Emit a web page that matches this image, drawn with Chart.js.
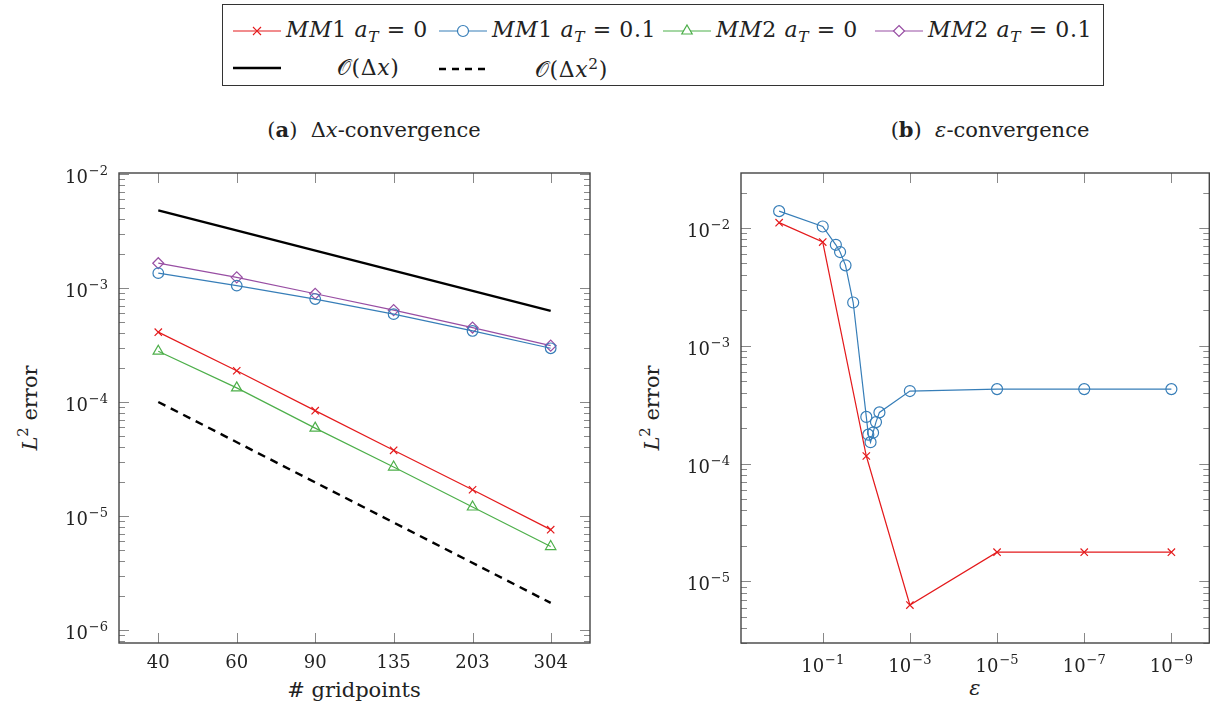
<!DOCTYPE html>
<html>
<head>
<meta charset="utf-8">
<script src="https://cdn.jsdelivr.net/npm/chart.js@4.4.0/dist/chart.umd.min.js"></script>
<style>
  body { margin: 0; background: #fff; width: 1216px; height: 711px; position: relative; overflow: hidden;
         font-family: "DejaVu Serif", serif; color: #222; }
  .abs { position: absolute; white-space: nowrap; }
  #legend { position: absolute; left: 222px; top: 4px; width: 882px; height: 82px;
            border: 1.3px solid #333; box-sizing: border-box; }
  .lg-item { position: absolute; display: flex; align-items: center; font-size: 22px; white-space: nowrap; }
  .lg-item span { letter-spacing: 0.6px; }
  sub { font-size: 70%; vertical-align: -0.3em; }
  sup { font-size: 70%; vertical-align: 0.55em; }
  .title { font-size: 21px; transform: translateX(-50%); }
  .ytitle { font-size: 21px; transform: translate(-50%, -50%) rotate(-90deg); }
  .xtitle { font-size: 21px; transform: translateX(-50%); }
  canvas { position: absolute; }
</style>
</head>
<body>
<div id="legend"></div>

<div class="abs title" style="left:374px; top:117px;">(<b>a</b>)&nbsp; Δ<i>x</i>-convergence</div>
<div class="abs title" style="left:990px; top:117px;">(<b>b</b>)&nbsp; <i>ε</i>-convergence</div>
<div class="abs ytitle" style="left:28px; top:408px;"><i>L</i><sup>2</sup> error</div>
<div class="abs ytitle" style="left:650px; top:408px;"><i>L</i><sup>2</sup> error</div>
<div class="abs xtitle" style="left:354px; top:678px;"># gridpoints</div>
<div class="abs xtitle" style="left:975px; top:676px;"><i>ε</i></div>

<canvas id="left" width="610" height="561" style="left:0; top:150px;"></canvas>
<canvas id="right" width="596" height="561" style="left:620px; top:150px;"></canvas>

<script>
// ---- data (a) dx-convergence
const GRID = [40, 60, 90, 135, 203, 304];
const MM1_A0  = [4.1e-4, 1.88e-4, 8.4e-5, 3.77e-5, 1.70e-5, 7.6e-6];
const MM1_A01 = [1.35e-3, 1.05e-3, 8.0e-4, 5.9e-4, 4.2e-4, 2.96e-4];
const MM2_A0  = [2.79e-4, 1.33e-4, 5.9e-5, 2.69e-5, 1.2e-5, 5.4e-6];
const MM2_A01 = [1.65e-3, 1.24e-3, 8.9e-4, 6.4e-4, 4.5e-4, 3.12e-4];
const REF_X   = [40, 304];
const ORDER1  = [4.8e-3, 6.3e-4];
const ORDER2  = [1.0e-4, 1.73e-6];

// ---- data (b) eps-convergence
const EPS_A0  = [1, 0.1, 0.01, 1e-3, 1e-5, 1e-7, 1e-9];
const ERR_A0  = [1.11e-2, 7.6e-3, 1.16e-4, 6.3e-6, 1.77e-5, 1.77e-5, 1.77e-5];
const EPS_A01 = [1, 0.1, 0.05, 0.04, 0.03, 0.02, 0.01, 0.009, 0.008, 0.007, 0.006, 0.005, 1e-3, 1e-5, 1e-7, 1e-9];
const ERR_A01 = [1.39e-2, 1.03e-2, 7.2e-3, 6.25e-3, 4.82e-3, 2.33e-3, 2.49e-4, 1.76e-4, 1.52e-4, 1.83e-4, 2.25e-4, 2.72e-4, 4.13e-4, 4.29e-4, 4.29e-4, 4.29e-4];

// ---- tick labels
const LEFT_YTICKS  = [1e-6, 1e-5, 1e-4, 1e-3, 1e-2];
const RIGHT_YTICKS = [1e-5, 1e-4, 1e-3, 1e-2];
const EPS_TICKS    = [1e-1, 1e-3, 1e-5, 1e-7, 1e-9];

const SERIES_NAMES = ['MM1 a_T = 0', 'MM1 a_T = 0.1', 'MM2 a_T = 0', 'MM2 a_T = 0.1'];
const REF_NAMES = ['O(Δx)', 'O(Δx^2)'];

const RED = '#e41a1c', BLUE = '#377eb8', GREEN = '#4daf4a', PURPLE = '#984ea3';

const pts = (xs, ys) => xs.map((x, i) => ({x: x, y: ys[i]}));

function series(label, xs, ys, color, style, r) {
  return {
    label: label, data: pts(xs, ys),
    borderColor: color, borderWidth: 1.2, backgroundColor: color,
    pointStyle: style, pointRadius: r, pointBorderColor: color,
    pointBackgroundColor: 'rgba(0,0,0,0)', pointBorderWidth: 1.2, tension: 0
  };
}

const FONT = '"DejaVu Serif", serif';
// "10" with a proper raised exponent
function drawPow(ctx, v, x, base, align) {
  const e = Math.round(Math.log10(v));
  const ex = String(e).replace('-', '\u2212');
  ctx.font = '18px ' + FONT;
  const wb = ctx.measureText('10').width;
  ctx.font = '13px ' + FONT;
  const we = ctx.measureText(ex).width;
  const w = wb + we + 1;
  const x0 = align === 'right' ? x - w : x - w / 2;
  ctx.textAlign = 'left';
  ctx.textBaseline = 'alphabetic';
  ctx.font = '18px ' + FONT;
  ctx.fillText('10', x0, base);
  ctx.font = '13px ' + FONT;
  ctx.fillText(ex, x0 + wb + 1, base - 8);
}

// inward ticks + box, like pgfplots; power-of-ten labels
const MAJ = 10, MIN = 6;
const frame = {
  id: 'frame',
  afterDraw(chart, args, opts) {
    const {ctx, chartArea: a, scales: {x, y}} = chart;
    ctx.save();
    ctx.strokeStyle = '#888';
    ctx.lineWidth = 1;
    ctx.beginPath();
    x.ticks.forEach(t => {
      const px = Math.round(x.getPixelForValue(t.value)) + 0.5;
      ctx.moveTo(px, a.bottom); ctx.lineTo(px, a.bottom - MAJ);
      ctx.moveTo(px, a.top); ctx.lineTo(px, a.top + MAJ);
    });
    const lo = Math.floor(Math.log10(y.min)), hi = Math.ceil(Math.log10(y.max));
    for (let e = lo; e <= hi; e++) {
      for (let k = 1; k < 10; k++) {
        const v = k * Math.pow(10, e);
        if (v < y.min || v > y.max) continue;
        const len = k === 1 ? MAJ : MIN;
        const py = Math.round(y.getPixelForValue(v)) + 0.5;
        ctx.moveTo(a.left, py); ctx.lineTo(a.left + len, py);
        ctx.moveTo(a.right, py); ctx.lineTo(a.right - len, py);
      }
    }
    ctx.stroke();
    ctx.strokeStyle = '#444';
    ctx.lineWidth = 1.4;
    ctx.strokeRect(a.left, a.top, a.right - a.left, a.bottom - a.top);

    ctx.fillStyle = '#222';
    y.ticks.forEach(t => {
      drawPow(ctx, t.value, a.left - 11, y.getPixelForValue(t.value) + 9, 'right');
    });
    if (opts.powX) {
      x.ticks.forEach(t => {
        drawPow(ctx, t.value, x.getPixelForValue(t.value), a.bottom + 29, 'center');
      });
    }
    ctx.restore();
  }
};

const tickFont = {family: FONT, size: 18};

function logAxis(extra) {
  return Object.assign({
    type: 'logarithmic', bounds: 'data',
    grid: {display: false, drawTicks: false},
    border: {display: false}
  }, extra);
}

// ---- chart (a)
new Chart(document.getElementById('left'), {
  type: 'line',
  data: {
    datasets: [
      series(SERIES_NAMES[0], GRID, MM1_A0, RED, 'crossRot', 5.2),
      series(SERIES_NAMES[1], GRID, MM1_A01, BLUE, 'circle', 5.3),
      series(SERIES_NAMES[2], GRID, MM2_A0, GREEN, 'triangle', 6),
      series(SERIES_NAMES[3], GRID, MM2_A01, PURPLE, 'rectRot', 5.5),
      {label: REF_NAMES[0], data: pts(REF_X, ORDER1), borderColor: '#000', borderWidth: 2.4, pointRadius: 0},
      {label: REF_NAMES[1], data: pts(REF_X, ORDER2), borderColor: '#000', borderWidth: 2.4, borderDash: [8, 6], pointRadius: 0}
    ]
  },
  options: {
    responsive: false, animation: false, events: [],
    layout: {padding: {left: 0, right: 20, top: 23, bottom: 0}},
    plugins: {legend: {display: false}, tooltip: {enabled: false}, frame: {powX: false}},
    scales: {
      x: logAxis({
        min: 32.65, max: 372.5,
        afterBuildTicks: s => { s.ticks = GRID.map(v => ({value: v})); },
        afterFit: s => { s.height = 68; },
        ticks: {font: tickFont, color: '#222', autoSkip: false, maxRotation: 0, padding: 10,
                callback: v => String(v)}
      }),
      y: logAxis({
        min: 7.7e-7, max: 1.02e-2,
        afterBuildTicks: s => { s.ticks = LEFT_YTICKS.map(v => ({value: v})); },
        afterFit: s => { s.width = 119; },
        ticks: {display: false}
      })
    }
  },
  plugins: [frame]
});

// ---- chart (b)
new Chart(document.getElementById('right'), {
  type: 'line',
  data: {
    datasets: [
      series(SERIES_NAMES[0], EPS_A0, ERR_A0, RED, 'crossRot', 5.2),
      series(SERIES_NAMES[1], EPS_A01, ERR_A01, BLUE, 'circle', 5.5)
    ]
  },
  options: {
    responsive: false, animation: false, events: [],
    layout: {padding: {left: 0, right: 5, top: 23, bottom: 0}},
    plugins: {legend: {display: false}, tooltip: {enabled: false}, frame: {powX: true}},
    scales: {
      x: logAxis({
        reverse: true, min: 1.35e-10, max: 7.5,
        afterBuildTicks: s => { s.ticks = EPS_TICKS.map(v => ({value: v})); },
        afterFit: s => { s.height = 68; },
        ticks: {display: false}
      }),
      y: logAxis({
        min: 3.0e-6, max: 2.93e-2,
        afterBuildTicks: s => { s.ticks = RIGHT_YTICKS.map(v => ({value: v})); },
        afterFit: s => { s.width = 121; },
        ticks: {display: false}
      })
    }
  },
  plugins: [frame]
});

// ---- shared legend (html, so the subscripts render)
function mathHtml(name) {
  let out = '';
  for (let i = 0; i < name.length; i++) {
    const c = name[i];
    if (c === '_' || c === '^') {
      const tag = c === '_' ? 'sub' : 'sup';
      const n = name[++i];
      out += '<' + tag + '>' + (/[a-zA-Z]/.test(n) ? '<i>' + n + '</i>' : n) + '</' + tag + '>';
    } else if (c === 'O') {
      out += '<span style="font-family:\'DejaVu Sans\',sans-serif">𝒪</span>';
    } else if (/[a-zA-Z]/.test(c)) {
      out += '<i>' + c + '</i>';
    } else if (c === ' ') {
      out += '&nbsp;';
    } else {
      out += c;
    }
  }
  return out;
}

function markerSvg(color, style, dash, width) {
  const w = 48, cy = 10, cx = 24;
  let m = '';
  if (style === 'crossRot') m = `<path d="M${cx-4} ${cy-4}L${cx+4} ${cy+4}M${cx-4} ${cy+4}L${cx+4} ${cy-4}" stroke="${color}" stroke-width="1.2"/>`;
  if (style === 'circle') m = `<circle cx="${cx}" cy="${cy}" r="5.5" fill="#fff" stroke="${color}" stroke-width="1.2"/>`;
  if (style === 'triangle') m = `<path d="M${cx} ${cy-6}L${cx+5.2} ${cy+3}L${cx-5.2} ${cy+3}Z" fill="#fff" stroke="${color}" stroke-width="1.2"/>`;
  if (style === 'rectRot') m = `<path d="M${cx} ${cy-5.5}L${cx+5.5} ${cy}L${cx} ${cy+5.5}L${cx-5.5} ${cy}Z" fill="#fff" stroke="${color}" stroke-width="1.2"/>`;
  return `<svg width="${w}" height="20"><line x1="0" y1="${cy}" x2="${w}" y2="${cy}" stroke="${color}" stroke-width="${width}" ${dash ? 'stroke-dasharray="7 6"' : ''}/>${m}</svg>`;
}

const LEGEND_ITEMS = [
  {name: SERIES_NAMES[0], color: RED, style: 'crossRot', left: 10, top: 12, gap: 5},
  {name: SERIES_NAMES[1], color: BLUE, style: 'circle', left: 216, top: 12, gap: 5},
  {name: SERIES_NAMES[2], color: GREEN, style: 'triangle', left: 440, top: 12, gap: 5},
  {name: SERIES_NAMES[3], color: PURPLE, style: 'rectRot', left: 652, top: 12, gap: 5},
  {name: REF_NAMES[0], color: '#000', style: null, left: 10, top: 50, lw: 2.4, gap: 56},
  {name: REF_NAMES[1], color: '#000', style: null, left: 216, top: 50, lw: 2.4, dash: true, gap: 48}
];
const legend = document.getElementById('legend');
LEGEND_ITEMS.forEach(it => {
  const d = document.createElement('div');
  d.className = 'lg-item';
  d.style.left = it.left + 'px';
  d.style.top = it.top + 'px';
  d.innerHTML = markerSvg(it.color, it.style, it.dash, it.lw || 1.2) +
    `<span style="margin-left:${it.gap}px">${mathHtml(it.name)}</span>`;
  legend.appendChild(d);
});
</script>
</body>
</html>
